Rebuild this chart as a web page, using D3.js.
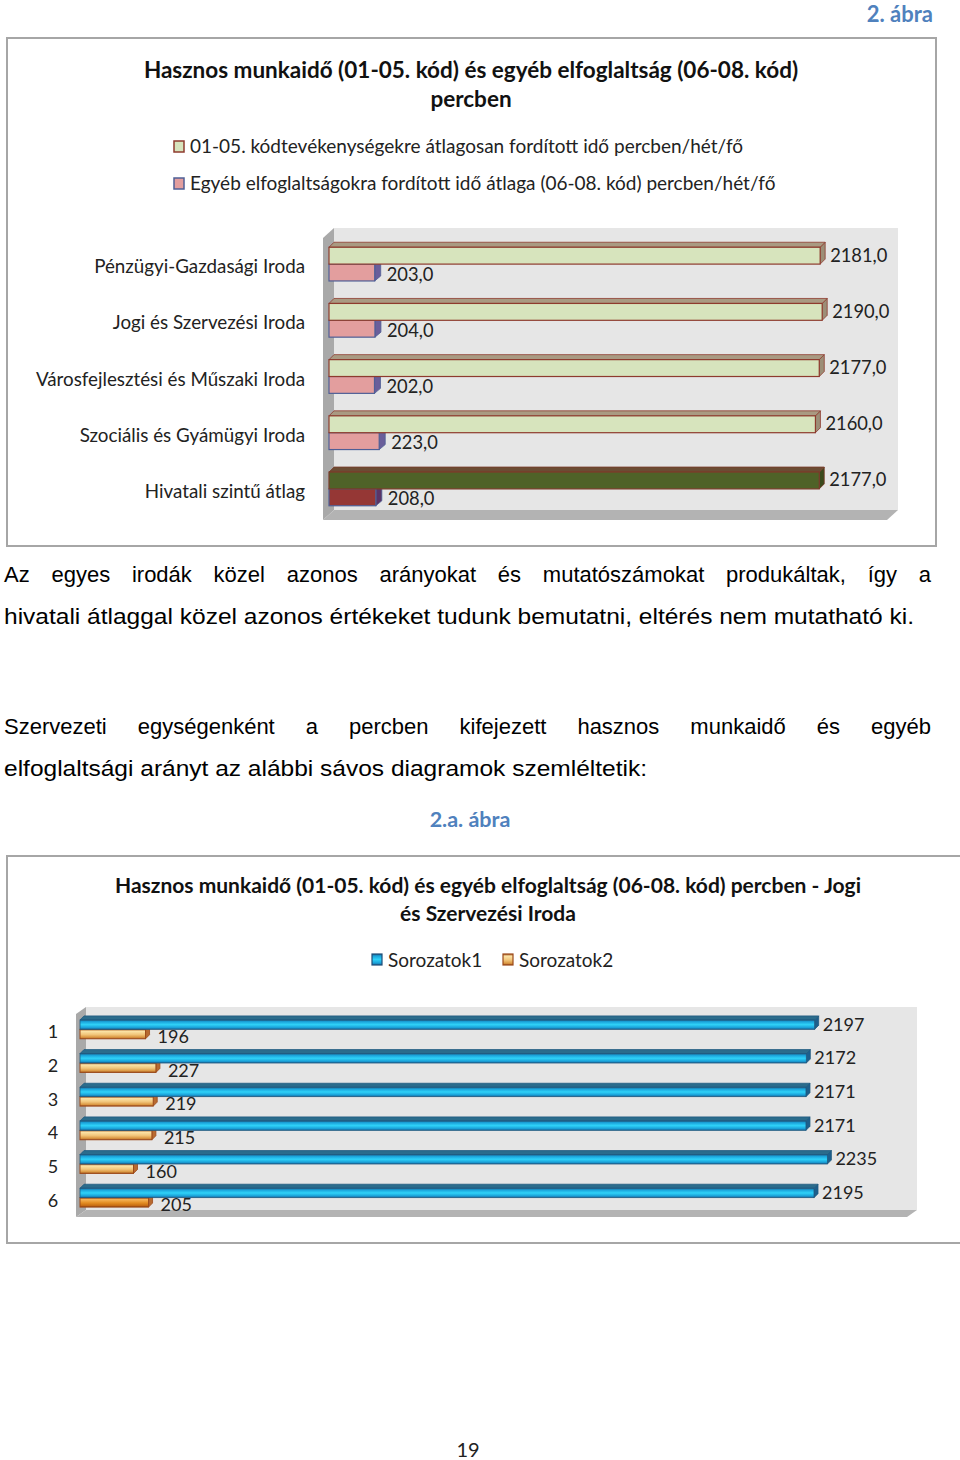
<!DOCTYPE html>
<html>
<head>
<meta charset="UTF-8">
<script src="https://cdn.jsdelivr.net/npm/d3@7"></script>
<style>
body{
    margin:0;
    background:#fff;
}
svg text{
    font-family: Lato, "Open Sans", sans-serif;
}
.para{
    font-family: "Liberation Sans", Arial, sans-serif !important;
}
</style>
</head>
<body>
<script>
// chart 1 data
var offices = ["Pénzügyi-Gazdasági Iroda", "Jogi és Szervezési Iroda", "Városfejlesztési és Műszaki Iroda",
               "Szociális és Gyámügyi Iroda", "Hivatali szintű átlag"]
var usefulTime = [2181, 2190, 2177, 2160, 2177]
var otherTime = [203, 204, 202, 223, 208]
var legend1 = ["01-05. kódtevékenységekre átlagosan fordított idő percben/hét/fő",
               "Egyéb elfoglaltságokra fordított idő átlaga (06-08. kód) percben/hét/fő"]

// chart 2 data
var rows2 = ["1", "2", "3", "4", "5", "6"]
var series1 = [2197, 2172, 2171, 2171, 2235, 2195]
var series2 = [196, 227, 219, 215, 160, 205]
var legend2 = ["Sorozatok1", "Sorozatok2"]

var paragraph1 = ["Az egyes irodák közel azonos arányokat és mutatószámokat produkáltak, így a",
                  "hivatali átlaggal közel azonos értékeket tudunk bemutatni, eltérés nem mutatható ki."]
var paragraph2 = ["Szervezeti egységenként a percben kifejezett hasznos munkaidő és egyéb",
                  "elfoglaltsági arányt az alábbi sávos diagramok szemléltetik:"]

var width = 960
var height = 1460

var svg = d3.select('body')
    .append('svg')
    .attr('width', width)
    .attr('height', height)

var defs = svg.append("defs")

function grad(id, stops){
    let g = defs.append("linearGradient").attr("id", id)
        .attr("x1", 0).attr("y1", 0).attr("x2", 0).attr("y2", 1)
    stops.forEach(function(s){
        g.append("stop").attr("offset", s[0]).attr("stop-color", s[1])
    })
}
grad("blueGrad", [[0, "#1d5f86"], [0.18, "#1aa2da"], [0.5, "#2fd2f8"], [0.82, "#19a0d8"], [1, "#1a6496"]])
grad("orangeGrad", [[0, "#a8602a"], [0.2, "#fbe3a6"], [0.55, "#f1c57a"], [0.85, "#d99540"], [1, "#9c4e1e"]])
grad("orangeGrad2", [[0, "#9c4e1e"], [0.2, "#f4b257"], [0.55, "#e38d22"], [0.85, "#c56a12"], [1, "#8a420e"]])

// page header
svg.append("text")
    .attr("x", 933).attr("y", 22)
    .attr("text-anchor", "end")
    .attr("font-size", 22).attr("font-weight", "bold")
    .attr("fill", "#4f81bd")
    .text("2. ábra")

// draws one 3D looking bar: front face, top face and right side face
function bar3d(g, x0, x1, y, h, dx, dy, c){
    g.append("polygon")
        .attr("points", [[x1, y], [x1 + dx, y - dy], [x1 + dx, y + h - dy], [x1, y + h]].join(" "))
        .attr("fill", c.side).attr("stroke", c.stroke).attr("stroke-width", 0.8)
    g.append("polygon")
        .attr("points", [[x0, y], [x1, y], [x1 + dx, y - dy], [x0 + dx, y - dy]].join(" "))
        .attr("fill", c.top).attr("stroke", c.stroke).attr("stroke-width", 0.8)
    g.append("rect")
        .attr("x", x0).attr("y", y)
        .attr("width", x1 - x0).attr("height", h)
        .attr("fill", c.fill).attr("stroke", c.stroke).attr("stroke-width", c.sw || 1.2)
}

function walls(g, left, right, top, bottom, dx, dy){
    // back wall
    g.append("rect")
        .attr("x", left + dx).attr("y", top)
        .attr("width", right - left - dx).attr("height", bottom - top - dy)
        .attr("fill", "#e6e6e6")
    // side wall
    g.append("polygon")
        .attr("points", [[left, top + dy], [left + dx, top], [left + dx, bottom - dy], [left, bottom]].join(" "))
        .attr("fill", "#a9a9a9")
    // floor
    g.append("polygon")
        .attr("points", [[left, bottom], [right - dx, bottom], [right, bottom - dy], [left + dx, bottom - dy]].join(" "))
        .attr("fill", "#b3b3b3")
}

// ---------------- chart 1 ----------------
var c1 = svg.append("g")
c1.append("rect")
    .attr("x", 7).attr("y", 38).attr("width", 929).attr("height", 508)
    .attr("fill", "white").attr("stroke", "#a6a6a6").attr("stroke-width", 2)

c1.append("text").attr("x", 471).attr("y", 78)
    .attr("text-anchor", "middle").attr("font-size", 22.5).attr("font-weight", "bold")
    .attr("fill", "#111")
    .text("Hasznos munkaidő (01-05. kód) és egyéb elfoglaltság (06-08. kód)")
c1.append("text").attr("x", 471).attr("y", 107)
    .attr("text-anchor", "middle").attr("font-size", 22.5).attr("font-weight", "bold")
    .attr("fill", "#111")
    .text("percben")

var leg1Colors = [{fill: "#d7e4bd", stroke: "#8e3b2e"}, {fill: "#e39e9e", stroke: "#4f5f96"}]
legend1.forEach(function(t, i){
    c1.append("rect")
        .attr("x", 174).attr("y", 141 + i * 37)
        .attr("width", 10).attr("height", 11)
        .attr("fill", leg1Colors[i].fill).attr("stroke", leg1Colors[i].stroke).attr("stroke-width", 1.5)
    c1.append("text")
        .attr("x", 190).attr("y", 153 + i * 37)
        .attr("font-size", 19).attr("fill", "#222")
        .text(t)
})

var x1 = d3.scaleLinear().domain([0, 2500]).range([329, 892])
var y1 = d3.scaleBand().domain(offices).range([236, 517]).paddingInner(0.4).paddingOuter(0.2)

walls(c1, 323, 898, 228, 520, 11, 10)

offices.forEach(function(name, i){
    let last = i == offices.length - 1
    let bw = y1.bandwidth() / 2
    let y = y1(name)
    bar3d(c1, x1(0), x1(otherTime[i]), y + bw, bw, 6, 5,
        last ? {fill: "#953735", stroke: "#4f5f96", top: "#7a3a50", side: "#5b3466"}
             : {fill: "#e39e9e", stroke: "#4f5f96", top: "#c48a9a", side: "#6a5e9a"})
    bar3d(c1, x1(0), x1(usefulTime[i]), y, bw, 5, 5,
        last ? {fill: "#4f6228", stroke: "#7a3b2a", top: "#6b4c33", side: "#3a4a1c"}
             : {fill: "#d7e4bd", stroke: "#8e3b2e", top: "#a99a82", side: "#9c8e77"})

    c1.append("text")
        .attr("x", 305).attr("y", y + bw + 9)
        .attr("text-anchor", "end").attr("font-size", 18.8).attr("fill", "#222")
        .text(name)
    c1.append("text")
        .attr("x", x1(usefulTime[i]) + 10).attr("y", y + bw / 2 + 6)
        .attr("font-size", 18.3).attr("fill", "#222")
        .text(d3.format(".1f")(usefulTime[i]).replace(".", ","))
    c1.append("text")
        .attr("x", x1(otherTime[i]) + 12).attr("y", y + bw * 1.5 + 8)
        .attr("font-size", 18.3).attr("fill", "#222")
        .text(d3.format(".1f")(otherTime[i]).replace(".", ","))
})

// ---------------- paragraphs ----------------
function justifiedLine(text, x, y, target, justify){
    let t = svg.append("text").attr("class", "para")
        .attr("x", x).attr("y", y)
        .attr("font-size", 22).attr("fill", "#000")
        .text(text)
    let w = t.node().getComputedTextLength()
    if (justify){
        let spaces = text.split(" ").length - 1
        t.style("word-spacing", ((target - w) / spaces) + "px")
    } else {
        t.attr("textLength", target).attr("lengthAdjust", "spacingAndGlyphs")
    }
}
justifiedLine(paragraph1[0], 4, 582, 927, true)
justifiedLine(paragraph1[1], 4, 624, 910, false)
justifiedLine(paragraph2[0], 4, 734, 927, true)
justifiedLine(paragraph2[1], 4, 776, 643, false)

svg.append("text")
    .attr("x", 470).attr("y", 827)
    .attr("text-anchor", "middle")
    .attr("font-size", 21.5).attr("font-weight", "bold")
    .attr("fill", "#4f81bd")
    .text("2.a. ábra")

// ---------------- chart 2 ----------------
var c2 = svg.append("g")
c2.append("rect")
    .attr("x", 7).attr("y", 856).attr("width", 1000).attr("height", 387)
    .attr("fill", "white").attr("stroke", "#a6a6a6").attr("stroke-width", 2)

c2.append("text").attr("x", 488).attr("y", 893)
    .attr("text-anchor", "middle").attr("font-size", 21).attr("font-weight", "bold")
    .attr("fill", "#111")
    .text("Hasznos munkaidő (01-05. kód) és egyéb elfoglaltság (06-08. kód) percben - Jogi")
c2.append("text").attr("x", 488).attr("y", 921)
    .attr("text-anchor", "middle").attr("font-size", 21).attr("font-weight", "bold")
    .attr("fill", "#111")
    .text("és Szervezési Iroda")

var leg2X = [372, 503]
var leg2Fill = ["url(#blueGrad)", "url(#orangeGrad)"]
var leg2Stroke = ["#1f4e79", "#9c4a1a"]
legend2.forEach(function(t, i){
    c2.append("rect")
        .attr("x", leg2X[i]).attr("y", 954)
        .attr("width", 10).attr("height", 11)
        .attr("fill", leg2Fill[i]).attr("stroke", leg2Stroke[i]).attr("stroke-width", 1.2)
    c2.append("text")
        .attr("x", leg2X[i] + 16).attr("y", 967)
        .attr("font-size", 19).attr("fill", "#222")
        .text(t)
})

var x2 = d3.scaleLinear().domain([0, 2500]).range([80, 916])
var y2 = d3.scaleBand().domain(rows2).range([1011.5, 1215.5]).paddingInner(0.44).paddingOuter(0.25)

walls(c2, 76, 917, 1007, 1217, 10, 7)

rows2.forEach(function(r, i){
    let bw = y2.bandwidth() / 2
    let y = y2(r)
    let last = i == rows2.length - 1
    bar3d(c2, x2(0), x2(series2[i]), y + bw, bw, 4, 4,
        {fill: last ? "url(#orangeGrad2)" : "url(#orangeGrad)", stroke: "#9c4a1a",
         top: last ? "#c9721c" : "#d9a355", side: "#b86a30", sw: 1})
    bar3d(c2, x2(0), x2(series1[i]), y, bw, 4, 4,
        {fill: "url(#blueGrad)", stroke: "#1f5a80", top: "#2b6c8c", side: "#1d5f8c", sw: 0.8})

    c2.append("text")
        .attr("x", 53).attr("y", y + bw + 9)
        .attr("text-anchor", "middle").attr("font-size", 18).attr("fill", "#222")
        .text(r)
    c2.append("text")
        .attr("x", x2(series1[i]) + 8).attr("y", y + bw / 2 + 6)
        .attr("font-size", 18).attr("fill", "#222")
        .text(series1[i])
    c2.append("text")
        .attr("x", x2(series2[i]) + 12).attr("y", y + bw * 1.5 + 9)
        .attr("font-size", 18).attr("fill", "#222")
        .text(series2[i])
})

// page number
svg.append("text")
    .attr("x", 468).attr("y", 1457)
    .attr("text-anchor", "middle")
    .attr("font-size", 20).attr("fill", "#222")
    .text("19")
</script>
</body>
</html>
